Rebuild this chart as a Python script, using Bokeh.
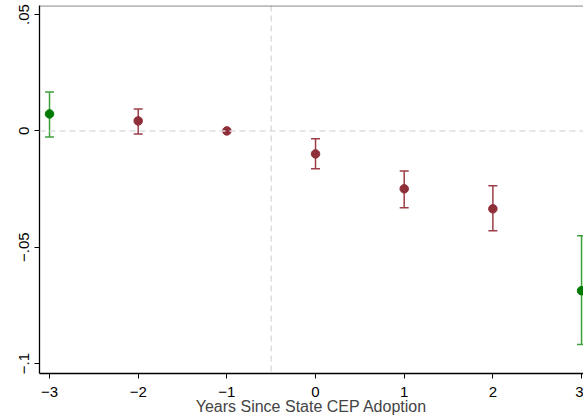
import math
from bokeh.plotting import figure
from bokeh.models import ColumnDataSource, Whisker, TeeHead, Span, FixedTicker
from bokeh.embed import file_html
from bokeh.resources import INLINE

# data
years = [-3, -2, -1, 0, 1, 2, 3]
coef = [0.0073, 0.0043, 0.0, -0.0099, -0.0249, -0.0335, -0.0687]
ci_low = [-0.0026, -0.0013, 0.0, -0.0163, -0.0330, -0.0429, -0.0918]
ci_high = [0.0167, 0.0094, 0.0, -0.0034, -0.0172, -0.0236, -0.0451]
group = ["end", "mid", "mid", "mid", "mid", "mid", "end"]
x_ticks = [-3, -2, -1, 0, 1, 2, 3]
x_tick_labels = ["\u22123", "\u22122", "\u22121", "0", "1", "2", "3"]
y_ticks = [-0.1, -0.05, 0, 0.05]
y_tick_labels = ["\u2212.1", "\u2212.05", "0", ".05"]

MAROON = "#8e2f39"
MAROON_CI = "#9c3d47"
GREEN = "#007a00"
GREEN_CI = "#3f9f3f"
FONT = "Liberation Sans"

p = figure(width=583, height=419, output_backend="svg", toolbar_location=None,
           x_range=(-3.113, 3.022), y_range=(-0.1043, 0.0539),
           min_border_left=39, min_border_bottom=46, min_border_top=5, min_border_right=0)
p.grid.visible = False
p.outline_line_color = None
p.background_fill_color = "white"
p.border_fill_color = "white"

# reference lines
p.add_layout(Span(location=0, dimension="width", line_color="#dddddd", line_dash="6 4", line_width=1.5))
p.add_layout(Span(location=-0.5, dimension="height", line_color="#dddddd", line_dash="6 4", line_width=1.5))
p.add_layout(Span(location=0.0537, dimension="width", line_color="#777777", line_width=1.2))

for g, mc, cc in [("mid", MAROON, MAROON_CI), ("end", GREEN, GREEN_CI)]:
    idx = [i for i, v in enumerate(group) if v == g and ci_low[i] != ci_high[i]]
    src = ColumnDataSource(dict(x=[years[i] for i in idx], lo=[ci_low[i] for i in idx],
                                hi=[ci_high[i] for i in idx]))
    w = Whisker(source=src, base="x", lower="lo", upper="hi", dimension="height",
                line_color=cc, line_width=1.5,
                upper_head=TeeHead(size=9, line_color=cc, line_width=1.5),
                lower_head=TeeHead(size=9, line_color=cc, line_width=1.5))
    p.add_layout(w)
    idx2 = [i for i, v in enumerate(group) if v == g]
    p.scatter([years[i] for i in idx2], [coef[i] for i in idx2], size=8.5,
              fill_color=mc, line_color=mc)

p.xaxis.ticker = FixedTicker(ticks=x_ticks)
p.xaxis.major_label_overrides = {t: l for t, l in zip(x_ticks, x_tick_labels)}
p.yaxis.ticker = FixedTicker(ticks=y_ticks)
p.yaxis.major_label_overrides = {t: l for t, l in zip(y_ticks, y_tick_labels)}
p.yaxis.major_label_orientation = "parallel"
p.xaxis.axis_label = "Years Since State CEP Adoption"
for ax in (p.xaxis, p.yaxis):
    ax.axis_line_color = "black"
    ax.axis_line_width = 1.3
    ax.major_tick_line_color = "black"
    ax.major_tick_out = 5
    ax.major_tick_in = 0
    ax.minor_tick_line_color = None
    ax.major_label_text_font = FONT
    ax.major_label_text_font_size = "15px"
    ax.major_label_text_color = "black"
p.xaxis.major_label_standoff = 8
p.yaxis.major_label_standoff = 5
p.xaxis.axis_label_text_font = FONT
p.xaxis.axis_label_text_font_size = "16px"
p.xaxis.axis_label_text_font_style = "normal"
p.xaxis.axis_label_standoff = -2

open("out.html", "w").write(file_html(p, INLINE))
